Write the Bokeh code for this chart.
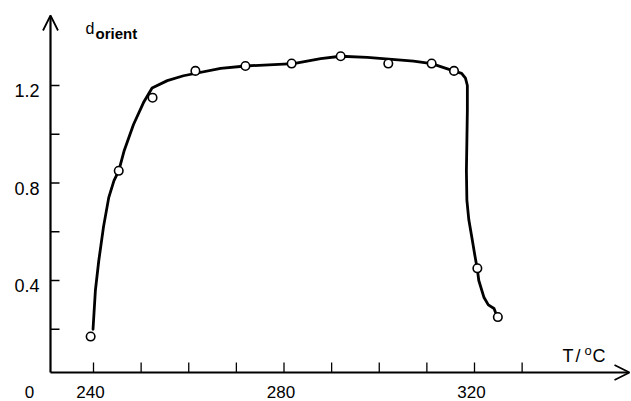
from bokeh.plotting import figure
from bokeh.models import Range1d, Arrow, OpenHead
from bokeh.core.properties import value
from bokeh.embed import file_html
from bokeh.resources import INLINE

# ---- data ----
temp_C = [239.4, 245.3, 252.4, 261.4, 271.9, 281.6, 291.9, 301.9, 311.0, 315.7, 320.6, 324.9]
d_orient = [0.17, 0.85, 1.15, 1.26, 1.28, 1.29, 1.32, 1.29, 1.29, 1.26, 0.45, 0.25]

# hand-drawn trend curve
curve_T = [239.9, 240.4, 241.1, 242.1, 243.2, 244.3, 245.3, 246.4, 248.4, 250.5,
           252.3, 255.5, 258.9, 266.7, 271.9, 282.0, 287.7, 291.9, 297.5, 307.2, 311.0,
           315.6, 317.3, 318.1, 318.5, 318.5, 318.4, 318.3, 318.4, 318.8, 319.5, 320.1,
           320.6, 320.9, 322.0, 322.9, 324.1, 324.4]
curve_d = [0.20, 0.36, 0.48, 0.62, 0.74, 0.81, 0.85, 0.93, 1.04, 1.13,
           1.19, 1.22, 1.24, 1.27, 1.28, 1.29, 1.31, 1.32, 1.315, 1.30, 1.29,
           1.26, 1.25, 1.23, 1.20, 1.10, 0.97, 0.85, 0.73, 0.65, 0.57, 0.50,
           0.445, 0.40, 0.33, 0.30, 0.285, 0.27]

x_ticks = [240, 250, 260, 270, 280, 290, 300, 310, 320, 330]
x_tick_labels = ["240", "280", "320"]
y_ticks = [0.2, 0.4, 0.6, 0.8, 1.0, 1.2]
y_tick_labels = ["0.4", "0.8", "1.2"]

# ---- layout (pixel scale of the drawing) ----
XS = 381 / 80.0      # px per degree
YS = 243.75          # px per unit of d
W, H = 631, 401


def tx(px):
    return 240 + (px - 93) / XS


def ty(py):
    return 1.2 + (85 - py) / YS


T0 = tx(50)          # position of the vertical axis
D0 = ty(372)         # position of the horizontal axis
T_TIP = tx(629)
D_TIP = ty(15)

FONT = value("Liberation Sans")

p = figure(width=W, height=H,
           x_range=Range1d(tx(0), tx(W)), y_range=Range1d(ty(H), ty(0)),
           output_backend="svg", toolbar_location=None, min_border=0,
           x_axis_type=None, y_axis_type=None, outline_line_color=None,
           background_fill_color="white", border_fill_color="white")
p.xgrid.visible = False
p.ygrid.visible = False

# axes with open arrow heads
p.add_layout(Arrow(x_start=T0, y_start=D0, x_end=T_TIP, y_end=D0, line_width=2.2,
                   line_color="black",
                   end=OpenHead(size=15, line_width=1.8, line_color="black")))
p.add_layout(Arrow(x_start=T0, y_start=D0, x_end=T0, y_end=D_TIP, line_width=2.2,
                   line_color="black",
                   end=OpenHead(size=15, line_width=1.8, line_color="black")))

# ticks (pointing inwards)
p.segment(x0=x_ticks, y0=[D0] * len(x_ticks), x1=x_ticks,
          y1=[D0 + 10 / YS] * len(x_ticks), line_color="black", line_width=1.3)
p.segment(x0=[T0] * len(y_ticks), y0=y_ticks, x1=[T0 + 9 / XS] * len(y_ticks),
          y1=y_ticks, line_color="black", line_width=1.3)

# tick labels
p.text(x=[float(v) for v in x_tick_labels], y=[D0] * len(x_tick_labels), text=x_tick_labels,
       x_offset=-3, y_offset=19, text_align="center", text_baseline="alphabetic",
       text_font=FONT, text_font_size="17px", text_color="black")
p.text(x=[T0] * len(y_tick_labels), y=[float(v) for v in y_tick_labels], text=y_tick_labels,
       x_offset=-11, y_offset=5, text_align="right", text_baseline="alphabetic",
       text_font=FONT, text_font_size="18px", text_color="black")
p.text(x=[T0], y=[D0], text=["0"], x_offset=-21, y_offset=19, text_align="center",
       text_baseline="alphabetic", text_font=FONT, text_font_size="17px", text_color="black")

# axis titles
p.text(x=[T0], y=[D_TIP], text=["d"], x_offset=35, y_offset=13, text_align="left",
       text_baseline="alphabetic", text_font=FONT, text_font_size="16px", text_color="black")
p.text(x=[T0], y=[D_TIP], text=["orient"], x_offset=45, y_offset=18, text_align="left",
       text_baseline="alphabetic", text_font=FONT, text_font_size="15px",
       text_font_style="bold", text_color="black")
p.text(x=[T_TIP] * 2, y=[D0] * 2, text=["T", "/"], x_offset=[-67, -54], y_offset=-17,
       text_align="left", text_baseline="alphabetic", text_font=FONT,
       text_font_size="18px", text_color="black")
p.text(x=[T_TIP], y=[D0], text=["o"], x_offset=-45, y_offset=-22, text_align="left",
       text_baseline="alphabetic", text_font=FONT, text_font_size="13px", text_color="black")
p.text(x=[T_TIP], y=[D0], text=["C"], x_offset=-37, y_offset=-17, text_align="left",
       text_baseline="alphabetic", text_font=FONT, text_font_size="18px", text_color="black")

# trend curve and measured points
p.line(curve_T, curve_d, line_width=2.8, line_color="black", line_join="round", line_cap="round")
p.scatter(temp_C, d_orient, size=8.5, fill_color="white", line_color="black", line_width=1.6)

open("out.html", "w").write(file_html(p, INLINE))
